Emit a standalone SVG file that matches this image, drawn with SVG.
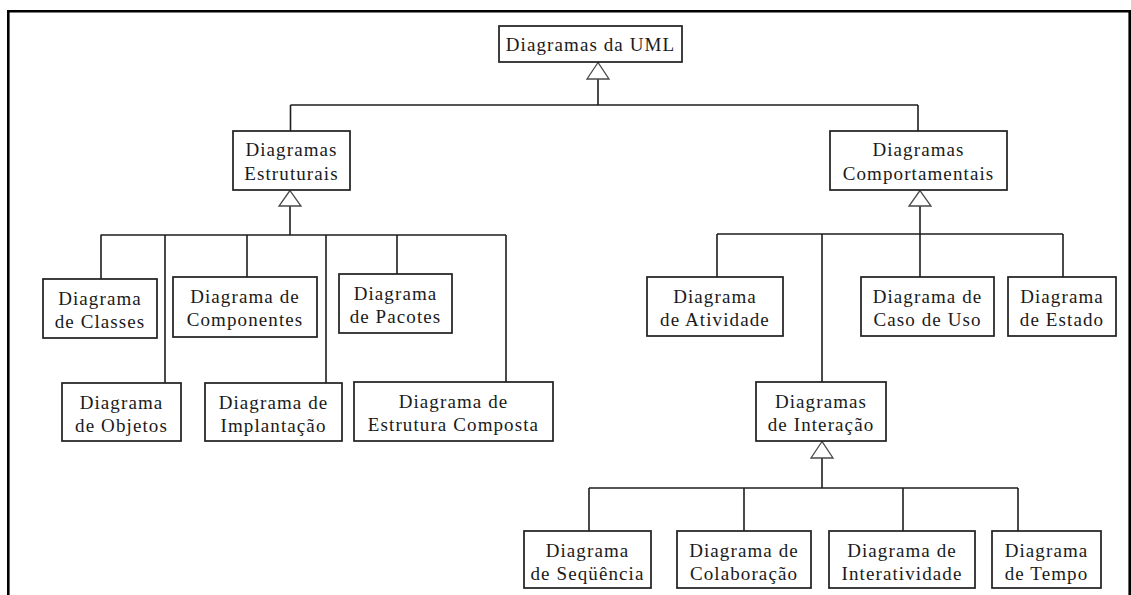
<svg xmlns="http://www.w3.org/2000/svg" width="1131" height="595" viewBox="0 0 1131 595">
  <defs>
    <style>
      .box { fill: #ffffff; stroke: #1e1e1e; stroke-width: 1.7; }
      .lbl { font-family: "Liberation Serif", "Times New Roman", serif; font-size: 19px; letter-spacing: 1.1px; fill: #1a1a1a; text-anchor: middle; }
      .conn { fill: none; stroke: #1e1e1e; stroke-width: 1.6; }
      .tri { fill: #ffffff; stroke: #4a4a4a; stroke-width: 1.3; stroke-linejoin: miter; }
      .frame { fill: none; stroke: #000000; stroke-width: 2.6; }
    </style>
  </defs>
  <rect x="0" y="0" width="1131" height="595" fill="#ffffff"/>

  <!-- outer frame (open at the bottom) -->
  <path class="frame" d="M8.3,600 V11.3 H1129.7 V600"/>

  <!-- generalization connectors -->
  <g id="connectors">
    <!-- UML root -->
    <path class="conn" d="M598,79 V105 M290.5,105 H918 M290.5,105 V131 M918,105 V131"/>
    <polygon class="tri" points="598,62.5 587,79 609,79"/>

    <!-- structural diagrams -->
    <path class="conn" d="M290,206 V235 M100.5,235 H506 M101,235 V279 M165,235 V383 M247,235 V277 M326,235 V383 M397,235 V274 M506,235 V382"/>
    <polygon class="tri" points="290,190.5 279,206 301,206"/>

    <!-- behavioural diagrams -->
    <path class="conn" d="M920,206 V234 M717,234 H1063 M717,234 V277 M822,234 V382 M920,234 V277 M1063,234 V277"/>
    <polygon class="tri" points="920,190.5 909,206 931,206"/>

    <!-- interaction diagrams -->
    <path class="conn" d="M822,458 V488 M589,488 H1018 M589,488 V531 M744,488 V531 M903,488 V531 M1018,488 V531"/>
    <polygon class="tri" points="822,441.5 811,458 833,458"/>
  </g>

  <g id="uml">
    <rect class="box" x="499" y="26" width="183" height="36"/>
    <text class="lbl" x="590.5" y="50.5">Diagramas da UML</text>
  </g>

  <g id="estruturais">
    <rect class="box" x="233" y="131" width="117" height="59"/>
    <text class="lbl" x="291.5" y="156">Diagramas</text>
    <text class="lbl" x="291.5" y="180">Estruturais</text>
  </g>

  <g id="comportamentais">
    <rect class="box" x="830" y="131" width="177" height="59"/>
    <text class="lbl" x="918.5" y="156">Diagramas</text>
    <text class="lbl" x="918.5" y="180">Comportamentais</text>
  </g>

  <g id="classes">
    <rect class="box" x="43" y="279" width="114" height="59"/>
    <text class="lbl" x="100" y="305">Diagrama</text>
    <text class="lbl" x="100" y="328">de Classes</text>
  </g>

  <g id="objetos">
    <rect class="box" x="62" y="383" width="119" height="58"/>
    <text class="lbl" x="121.5" y="409">Diagrama</text>
    <text class="lbl" x="121.5" y="432">de Objetos</text>
  </g>

  <g id="componentes">
    <rect class="box" x="173" y="277" width="144" height="60"/>
    <text class="lbl" x="245" y="303">Diagrama de</text>
    <text class="lbl" x="245" y="326">Componentes</text>
  </g>

  <g id="implantacao">
    <rect class="box" x="205" y="383" width="137" height="58"/>
    <text class="lbl" x="273.5" y="409">Diagrama de</text>
    <text class="lbl" x="273.5" y="432">Implantação</text>
  </g>

  <g id="pacotes">
    <rect class="box" x="339" y="274" width="113" height="59"/>
    <text class="lbl" x="395.5" y="300">Diagrama</text>
    <text class="lbl" x="395.5" y="323">de Pacotes</text>
  </g>

  <g id="estrutura-composta">
    <rect class="box" x="354" y="382" width="199" height="59"/>
    <text class="lbl" x="453.5" y="408">Diagrama de</text>
    <text class="lbl" x="453.5" y="431">Estrutura Composta</text>
  </g>

  <g id="atividade">
    <rect class="box" x="647" y="277" width="136" height="59"/>
    <text class="lbl" x="715" y="303">Diagrama</text>
    <text class="lbl" x="715" y="326">de Atividade</text>
  </g>

  <g id="interacao">
    <rect class="box" x="756" y="382" width="130" height="59"/>
    <text class="lbl" x="821" y="408">Diagramas</text>
    <text class="lbl" x="821" y="431">de Interação</text>
  </g>

  <g id="caso-de-uso">
    <rect class="box" x="861" y="277" width="133" height="59"/>
    <text class="lbl" x="927.5" y="303">Diagrama de</text>
    <text class="lbl" x="927.5" y="326">Caso de Uso</text>
  </g>

  <g id="estado">
    <rect class="box" x="1008" y="277" width="108" height="59"/>
    <text class="lbl" x="1062" y="303">Diagrama</text>
    <text class="lbl" x="1062" y="326">de Estado</text>
  </g>

  <g id="sequencia">
    <rect class="box" x="524" y="531" width="127" height="57"/>
    <text class="lbl" x="587.5" y="557">Diagrama</text>
    <text class="lbl" x="587.5" y="580">de Seqüência</text>
  </g>

  <g id="colaboracao">
    <rect class="box" x="677" y="531" width="134" height="57"/>
    <text class="lbl" x="744" y="557">Diagrama de</text>
    <text class="lbl" x="744" y="580">Colaboração</text>
  </g>

  <g id="interatividade">
    <rect class="box" x="829" y="531" width="146" height="57"/>
    <text class="lbl" x="902" y="557">Diagrama de</text>
    <text class="lbl" x="902" y="580">Interatividade</text>
  </g>

  <g id="tempo">
    <rect class="box" x="992" y="531" width="109" height="57"/>
    <text class="lbl" x="1046.5" y="557">Diagrama</text>
    <text class="lbl" x="1046.5" y="580">de Tempo</text>
  </g>
</svg>
